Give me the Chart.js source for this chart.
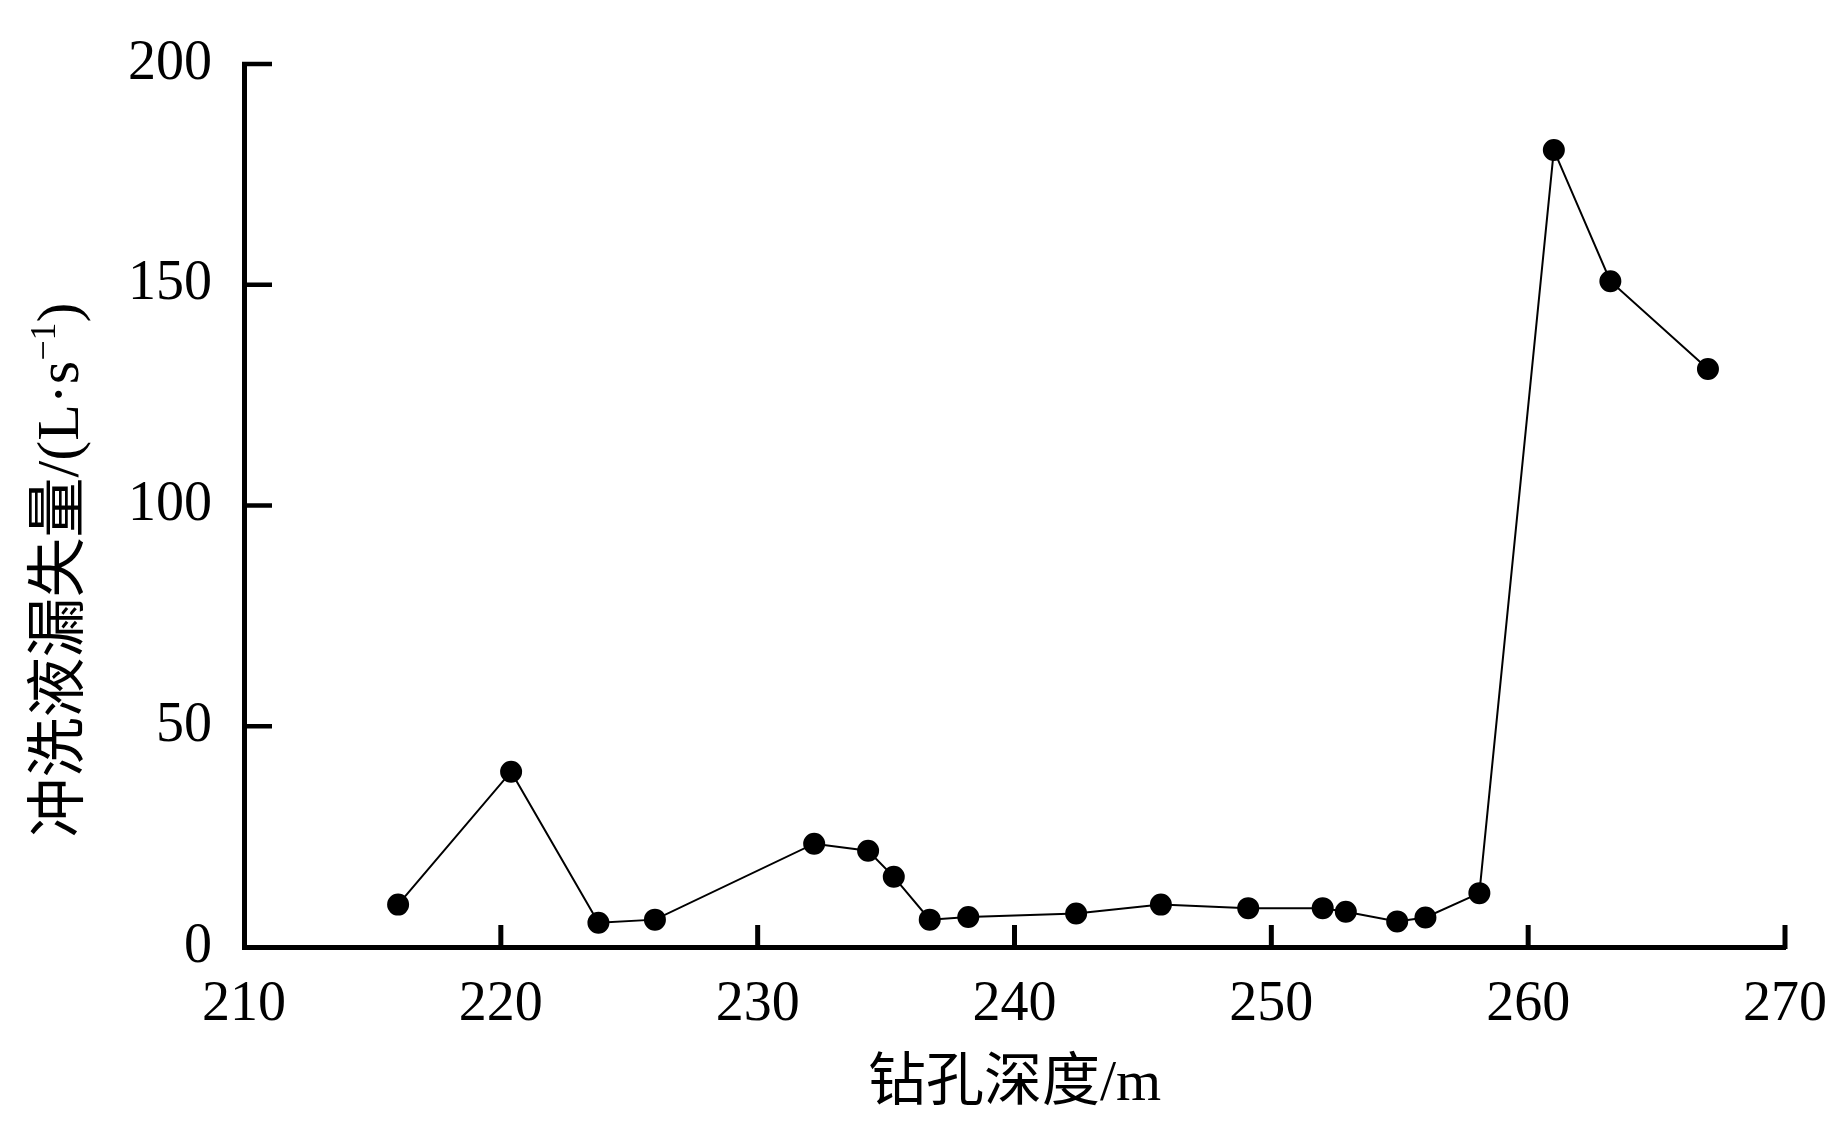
<!DOCTYPE html>
<html><head><meta charset="utf-8">
<script src="https://cdn.jsdelivr.net/npm/chart.js@4.4.0/dist/chart.umd.min.js"></script>
<style>html,body{margin:0;padding:0;background:#fff;overflow:hidden}#wrap{width:1843px;height:1135px}</style>
</head><body><div id="wrap"><canvas id="c" width="1843" height="1135"></canvas></div>
<script>
// ---- data ----
const depth = [216.0, 220.4, 223.8, 226.0, 232.2, 234.3, 235.3, 236.7, 238.2, 242.4, 245.7, 249.1, 252.0, 252.9, 254.9, 256.0, 258.1, 261.0, 263.2, 267.0];
const loss  = [9.6, 39.7, 5.5, 6.2, 23.4, 21.8, 15.9, 6.2, 6.8, 7.6, 9.6, 8.8, 8.8, 8.0, 5.8, 6.7, 12.2, 180.5, 150.8, 130.9];
const xTickLabels = [210, 220, 230, 240, 250, 260, 270];
const yTickLabels = [0, 50, 100, 150, 200];
const xTitle = '钻孔深度/m';
const yTitleMain = '冲洗液漏失量/(L·s';
const yTitleSup = '−1';
const yTitleEnd = ')';

const points = depth.map((d, i) => ({ x: d, y: loss[i] }));
const FONT = '"Liberation Serif", "Noto Sans CJK SC", serif';

const innerTicks = {
  id: 'innerTicks',
  afterDraw(chart) {
    const ctx = chart.ctx, xs = chart.scales.x, ys = chart.scales.y;
    const ca = chart.chartArea;
    ctx.save();
    ctx.strokeStyle = '#000';
    ctx.lineCap = 'butt';
    ctx.lineWidth = 5;
    xs.ticks.forEach(t => {
      if (t.value === xs.min) return;
      const px = xs.getPixelForValue(t.value);
      ctx.beginPath(); ctx.moveTo(px, ca.bottom + 2); ctx.lineTo(px, ca.bottom - 22); ctx.stroke();
    });
    ctx.lineWidth = 4.5;
    ys.ticks.forEach(t => {
      if (t.value === ys.min) return;
      const py = ys.getPixelForValue(t.value);
      ctx.beginPath(); ctx.moveTo(ca.left - 2, py); ctx.lineTo(ca.left + 28, py); ctx.stroke();
    });
    // y-axis title
    ctx.fillStyle = '#000';
    ctx.translate(62, 570);
    ctx.rotate(-Math.PI / 2);
    ctx.textBaseline = 'middle';
    ctx.textAlign = 'left';
    const f1 = '60px ' + FONT, f2 = '36px ' + FONT;
    ctx.font = f1; const w1 = ctx.measureText(yTitleMain).width; const w3 = ctx.measureText(yTitleEnd).width;
    ctx.font = f2; const w2 = ctx.measureText(yTitleSup).width;
    let x0 = -(w1 + w2 + w3) / 2;
    ctx.font = f1; ctx.fillText(yTitleMain, x0, 0); x0 += w1;
    ctx.font = f2; ctx.fillText(yTitleSup, x0, -16); x0 += w2;
    ctx.font = f1; ctx.fillText(yTitleEnd, x0, 0);
    ctx.restore();
  }
};

new Chart(document.getElementById('c'), {
  type: 'scatter',
  data: {
    datasets: [{
      data: points,
      showLine: true,
      borderColor: '#000',
      borderWidth: 2,
      backgroundColor: '#000',
      pointBackgroundColor: '#000',
      pointBorderColor: '#000',
      pointRadius: 10,
      pointHoverRadius: 10,
      tension: 0
    }]
  },
  options: {
    responsive: false,
    animation: false,
    devicePixelRatio: 1,
    layout: { padding: { top: 64, right: 58, bottom: 0, left: 0 } },
    plugins: { legend: { display: false }, tooltip: { enabled: false } },
    scales: {
      x: {
        type: 'linear',
        min: 210, max: 270,
        afterBuildTicks: s => { s.ticks = xTickLabels.map(v => ({ value: v })); },
        afterFit: s => { s.height = 1135 - 947; s.paddingLeft = 0; s.paddingRight = 0; },
        grid: { display: false, drawTicks: false },
        border: { display: true, color: '#000', width: 5 },
        ticks: { color: '#000', padding: 25, maxRotation: 0, font: { family: FONT, size: 56 }, callback: v => String(v) },
        title: { display: true, text: xTitle, color: '#000', font: { family: FONT, size: 58 }, padding: { top: 0, bottom: 15 } }
      },
      y: {
        type: 'linear',
        min: 0, max: 200,
        afterBuildTicks: s => { s.ticks = yTickLabels.map(v => ({ value: v })); },
        afterFit: s => { s.width = 244; s.paddingTop = 0; s.paddingBottom = 0; },
        grid: { display: false, drawTicks: false },
        border: { display: true, color: '#000', width: 5 },
        ticks: { color: '#000', padding: 32, font: { family: FONT, size: 56 }, callback: v => String(v) }
      }
    }
  },
  plugins: [innerTicks]
});
</script>
</body></html>
